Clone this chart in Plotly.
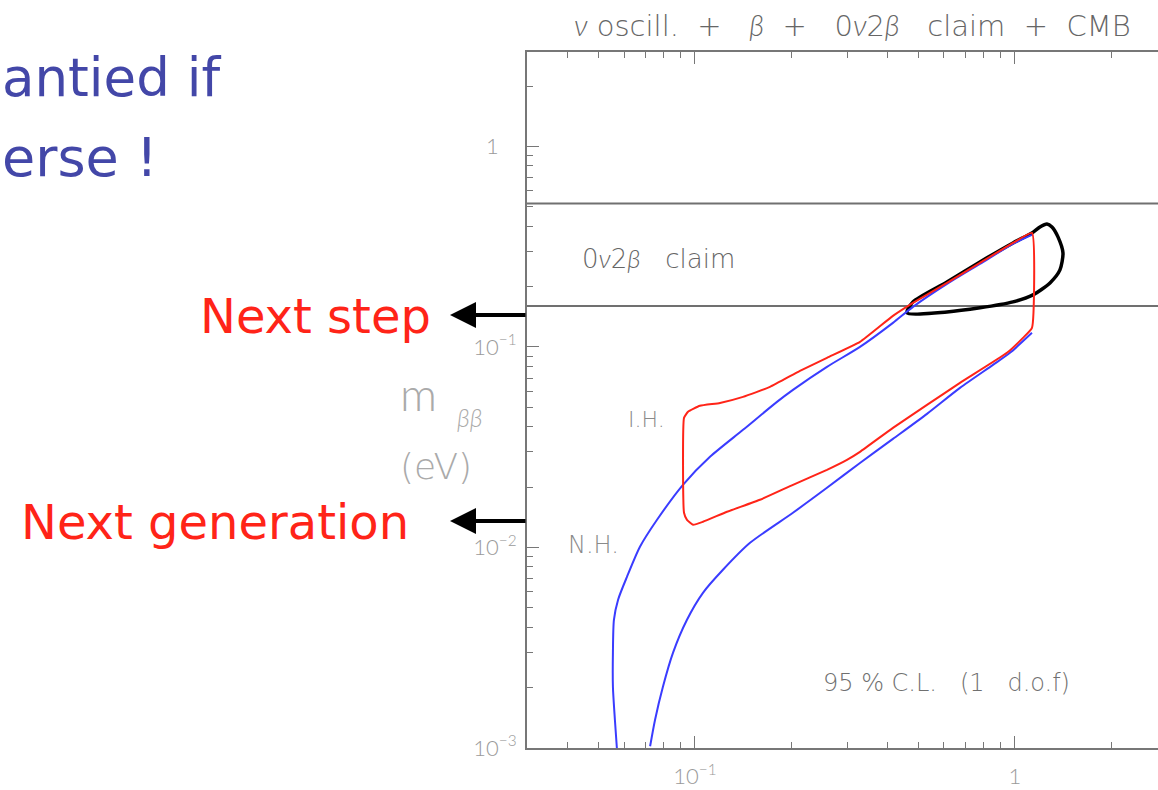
import plotly.graph_objects as go

# ---------------- data (eV units) ----------------
# Normal hierarchy band: upper/left boundary (bottom -> top)
nh_upper_m = [0.0570, 0.0562, 0.0554, 0.0554, 0.0558, 0.0575, 0.0613, 0.0673, 0.0761, 0.0917,
              0.1114, 0.1413, 0.1804, 0.2024, 0.2585, 0.3278, 0.4156, 0.4800, 0.6131, 0.7773,
              0.9856, 1.130]
nh_upper_mbb = [0.00100, 0.00138, 0.00202, 0.00299, 0.00436, 0.00549, 0.00714, 0.01008, 0.01374, 0.02054,
                0.02832, 0.03861, 0.05324, 0.06111, 0.07958, 0.1001, 0.1319, 0.1585, 0.2063, 0.2596,
                0.3266, 0.3621]
# Normal hierarchy band: lower/right boundary (top -> bottom)
nh_lower_m = [1.130, 0.9647, 0.8536, 0.6731, 0.5309, 0.4156, 0.3278, 0.2585, 0.2024,
              0.1486, 0.1223, 0.1059, 0.0944, 0.0854, 0.0794, 0.0750, 0.0724]
nh_lower_mbb = [0.1176, 0.0935, 0.0814, 0.0625, 0.0464, 0.0348, 0.0264, 0.01984, 0.0149,
                0.01055, 0.00774, 0.00594, 0.00436, 0.00299, 0.00202, 0.00138, 0.00102]
# Inverted hierarchy closed contour
ih_m = [1.130, 0.9857, 0.7773, 0.6131, 0.4800, 0.4156, 0.3278, 0.2585, 0.2128, 0.1715,
        0.1413, 0.1197, 0.1036, 0.0951, 0.0924, 0.0924, 0.0944, 0.0986, 0.1059, 0.1259,
        0.1596, 0.2024, 0.2585, 0.2985, 0.3278, 0.4156, 0.5309, 0.6731, 0.9441, 1.0593,
        1.130, 1.130]
ih_mbb = [0.3705, 0.3303, 0.2626, 0.2087, 0.1659, 0.1429, 0.1060, 0.0883, 0.0760, 0.0632,
          0.0564, 0.0526, 0.0509, 0.0475, 0.0443, 0.01489, 0.01374, 0.01298, 0.01343, 0.01507,
          0.01729, 0.02054, 0.02440, 0.02736, 0.03000, 0.03951, 0.05144, 0.06622, 0.0935, 0.1110,
          0.1245, 0.3705]
# Combined (oscill. + beta + 0v2b claim + CMB) contour
comb_m = [0.4598, 0.6131, 0.7773, 0.9857, 1.1384, 1.2865, 1.3822, 1.4125, 1.3626, 1.3050,
          1.2589, 1.1971, 1.130, 0.9857, 0.7773, 0.6131, 0.4800, 0.4598]
comb_mbb = [0.1479, 0.1496, 0.1567, 0.1678, 0.1818, 0.2087, 0.2423, 0.2944, 0.3539, 0.3969,
            0.4109, 0.3969, 0.3705, 0.3303, 0.2656, 0.2111, 0.1678, 0.1479]
# 0v2b claim band limits
claim_limits = [0.16, 0.52]

x_tickvals = [0.1, 1]
x_ticktext = ["10<sup>\u22121</sup>", "1"]
y_tickvals = [0.001, 0.01, 0.1, 1]
y_ticktext = ["10<sup>\u22123</sup>", "10<sup>\u22122</sup>", "10<sup>\u22121</sup>", "1"]

# ---------------- layout geometry ----------------
W, H = 1158, 790
L, R, T, B = 527, 1158, 52, 748
XLOG = [-1.525, 0.447]
YLOG = [-3.0, 0.471]


def pxx(px):
    return (px - L) / (R - L)


def pyy(py):
    return (B - py) / (B - T)


BLUE = "#3a3cff"
RED = "#ff2418"
GREY = "#777777"
NB = "\u00a0"

fig = go.Figure()

# claim band lines
for lim in claim_limits:
    fig.add_trace(go.Scatter(x=[0.001, 100], y=[lim, lim], mode="lines",
                             line=dict(color="#707070", width=2), hoverinfo="skip"))

# combined contour (black)
fig.add_trace(go.Scatter(x=comb_m, y=comb_mbb, mode="lines",
                         line=dict(color="black", width=3.5, shape="spline", smoothing=0.7),
                         hoverinfo="skip"))
# NH band (blue) - two boundaries
for xs, ys in ((nh_upper_m, nh_upper_mbb), (nh_lower_m, nh_lower_mbb)):
    fig.add_trace(go.Scatter(x=xs, y=ys, mode="lines",
                             line=dict(color=BLUE, width=2, shape="spline", smoothing=0.7),
                             hoverinfo="skip"))
# IH contour (red)
fig.add_trace(go.Scatter(x=ih_m, y=ih_mbb, mode="lines",
                         line=dict(color=RED, width=2, shape="spline", smoothing=0.4),
                         hoverinfo="skip"))


def minor_vals(exps):
    return [k * 10.0 ** e for e in exps for k in range(2, 10)]


tickfont = dict(family="Lato", size=22, color="#9a9a9a", weight=300)
# in the reference the plain "1" label sits a little left of the 10^n labels
y_ticktext_padded = [t + (NB * 3 if t == "1" else "") for t in y_ticktext]

fig.update_xaxes(type="log", range=XLOG, showline=True, linecolor=GREY, linewidth=2,
                 mirror="ticks", ticks="inside", ticklen=12, tickwidth=1, tickcolor=GREY,
                 tickmode="array", tickvals=x_tickvals, ticktext=x_ticktext,
                 tickfont=tickfont, ticklabelstandoff=8, showgrid=False, zeroline=False,
                 minor=dict(tickmode="array", tickvals=minor_vals([-2, -1, 0]), ticks="inside",
                            ticklen=6, tickwidth=1, tickcolor=GREY, showgrid=False))
fig.update_yaxes(type="log", range=YLOG, showline=True, linecolor=GREY, linewidth=2,
                 mirror=False, ticks="inside", ticklen=12, tickwidth=1, tickcolor=GREY,
                 tickmode="array", tickvals=y_tickvals, ticktext=y_ticktext_padded,
                 tickfont=tickfont, ticklabelstandoff=4, showgrid=False, zeroline=False,
                 minor=dict(tickmode="array", tickvals=minor_vals([-3, -2, -1, 0]), ticks="inside",
                            ticklen=6, tickwidth=1, tickcolor=GREY, showgrid=False))


def gk(s):
    # thin italic Greek letters
    return f'<span style="font-family:Lato;font-weight:300"><i>{s}</i></span>'


ann = []


def txt(text, px, py, size, color, family="DejaVu Sans", xanchor="center", weight=None):
    f = dict(family=family, size=size, color=color)
    if weight:
        f["weight"] = weight
    ann.append(dict(text=text, x=pxx(px), y=pyy(py), xref="paper", yref="paper",
                    xanchor=xanchor, yanchor="middle", showarrow=False, font=f))


SP = NB * 3
txt(f"{gk('ν')} oscill.{NB}{NB}+{SP}{gk('β')}{NB}{NB}+{SP}0{gk('ν')}2{gk('β')}{SP}claim{NB}{NB}+{NB}{NB}CMB",
    852, 25, 29, "#666666", weight=200)
txt(f"0{gk('ν')}2{gk('β')}{SP}claim", 658, 258, 26, "#666666", weight=200)
txt("I.H.", 646, 419, 22, "#8a8a8a", weight=200)
txt("N.H.", 593, 545, 24, "#8a8a8a", weight=200)
txt(f"95 % C.L.{SP}(1{SP}d.o.f)", 946, 683, 24, "#707070", weight=200)
# y axis title
txt("m", 418, 393, 46, "#aaaaaa", family="Lato", weight=300)
txt("<i>ββ</i>", 469, 417, 25, "#aaaaaa", family="Lato", weight=300)
txt("(eV)", 436, 466, 36, "#aaaaaa", weight=200)
# slide texts
txt("Next step", 315, 316, 48, RED)
txt("Next generation", 215, 522, 48, RED)
txt("antied if", 0, 78, 53, "#4347a8", xanchor="left")
txt("erse !", 0, 158, 54, "#4347a8", xanchor="left")

# arrows
for yy in (315, 521):
    ann.append(dict(text="", x=pxx(450), y=pyy(yy), xref="paper", yref="paper",
                    ax=77, ay=0, showarrow=True, arrowhead=2, arrowsize=1.3,
                    arrowwidth=4, arrowcolor="black"))

fig.update_layout(width=W, height=H, autosize=False,
                  margin=dict(l=L, r=W - R, t=T, b=H - B, pad=0),
                  paper_bgcolor="white", plot_bgcolor="white",
                  showlegend=False, annotations=ann)

fig.write_html("out.html", config={"displayModeBar": False},
               post_script="document.body.style.margin='0px';")
